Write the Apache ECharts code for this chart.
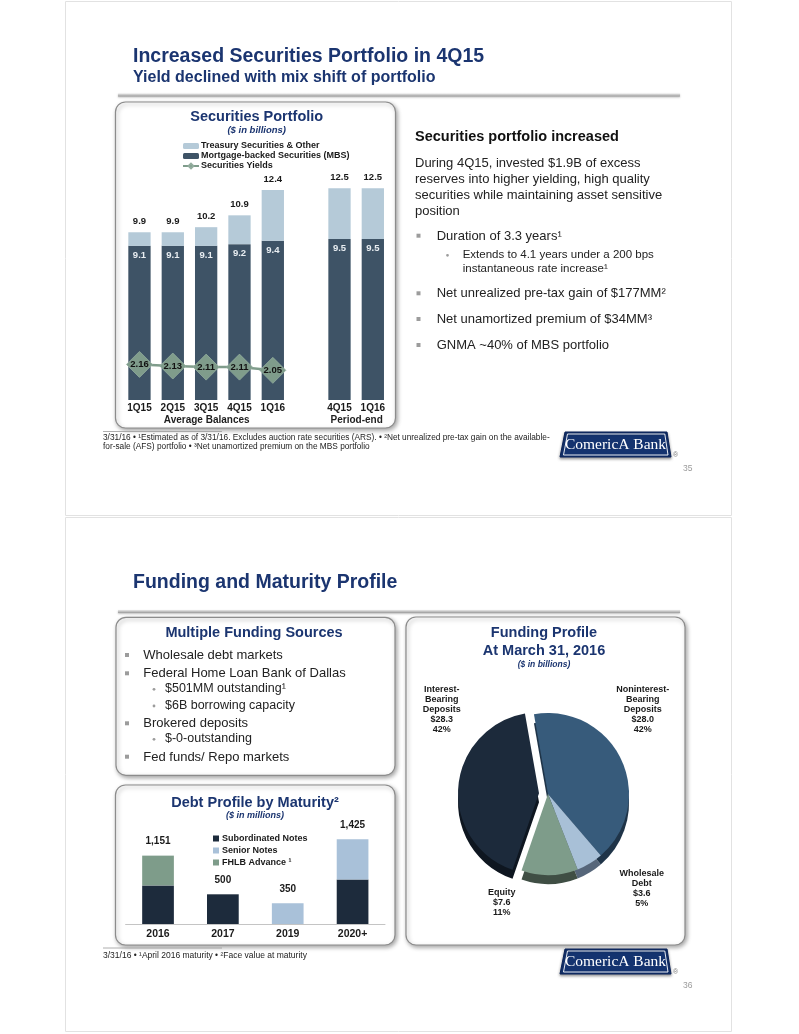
<!DOCTYPE html>
<html>
<head>
<meta charset="utf-8">
<script src="https://cdn.jsdelivr.net/npm/echarts@6.0.0/dist/echarts.min.js"></script>
<style>
html,body{margin:0;padding:0;background:#fff;}
#main{width:799px;height:1034px;}
</style>
</head>
<body>
<div id="main"></div>
<script>
// ---------- DATA ----------
const secCats = ['1Q15', '2Q15', '3Q15', '4Q15', '1Q16', '', '4Q15', '1Q16'];
const secTotals = [9.9, 9.9, 10.2, 10.9, 12.4, null, 12.5, 12.5];
const secMBS = [9.1, 9.1, 9.1, 9.2, 9.4, null, 9.5, 9.5];
const secYields = [2.16, 2.13, 2.11, 2.11, 2.05, null, null, null];
const secGroups = ['Average Balances', 'Period-end'];

const debtCats = ['2016', '2017', '2019', '2020+'];
const debtSub = [650, 500, null, 750];
const debtSenior = [null, null, 350, 675];
const debtFHLB = [501, null, null, null];
const debtTotals = [1151, 500, 350, 1425];

const fundNames = ['Noninterest-Bearing Deposits', 'Wholesale Debt', 'Equity', 'Interest-Bearing Deposits'];
const fundValues = [28.0, 3.6, 7.6, 28.3];
const fundExploded = 3; // index of the pulled-out slice

// ---------- STYLE ----------
const FF = '"Liberation Sans", Arial, Helvetica, sans-serif';
const NAVY = '#1B3570';
const C_MBS = '#3E5366', C_TRE = '#B5CAD8', C_YLD = '#7F9C8B';
const C_SUB = '#1D2B3C', C_SEN = '#A9C1D9', C_FHLB = '#7E9C8A';
const pieColors = ['#375B7B', '#A8C0D7', '#7E9C8A', '#1C2A3B'];
const pieDepth = ['#1F3448', '#56667A', '#3F4E44', '#0E1620'];
const CLEAR = 'rgba(0,0,0,0)';

const secTreasury = secTotals.map((t, i) => t == null ? null : +(t - secMBS[i]).toFixed(2));

function T(x, baseline, text, fs, o) {
  o = o || {};
  return {
    type: 'text', z: 100, silent: true,
    style: {
      text: text, x: x, y: baseline - 0.35 * fs,
      align: o.align || 'left', verticalAlign: 'middle',
      fontSize: fs, fontWeight: o.bold ? 'bold' : 'normal',
      fontStyle: o.italic ? 'italic' : 'normal',
      fontFamily: FF, fill: o.color || '#1e1e1e'
    }
  };
}
function box(x, y, w, h) {
  return {
    type: 'rect', z: 0, silent: true,
    shape: { x: x, y: y, width: w, height: h, r: 10 },
    style: { fill: '#fff', stroke: '#8c8c8c', lineWidth: 1.2,
      shadowBlur: 4, shadowColor: 'rgba(0,0,0,0.35)', shadowOffsetX: 1.5, shadowOffsetY: 2 }
  };
}
function rule(y) {
  return {
    type: 'rect', z: 1, silent: true,
    shape: { x: 118, y: y, width: 562, height: 3 },
    style: {
      fill: new echarts.graphic.LinearGradient(0, 0, 0, 1, [
        { offset: 0, color: '#e8e8e8' }, { offset: 1, color: '#9a9a9a' }]),
      shadowBlur: 2, shadowColor: 'rgba(0,0,0,0.25)', shadowOffsetY: 1
    }
  };
}
function shortLine(y) {
  return { type: 'line', z: 1, silent: true, shape: { x1: 103, y1: y, x2: 222, y2: y },
    style: { stroke: '#9a9a9a', lineWidth: 0.8 } };
}
function sq(x, baseline) {
  return { type: 'rect', z: 100, silent: true, shape: { x: x, y: baseline - 7, width: 4, height: 4 },
    style: { fill: '#9c9c9c' } };
}
function dot(x, baseline) {
  return { type: 'circle', z: 100, silent: true, shape: { cx: x, cy: baseline - 4, r: 1.4 },
    style: { fill: '#9c9c9c' } };
}
function logo(y, num) {
  return [
    { type: 'polygon', z: 50, silent: true,
      shape: { points: [[565, y], [667, y], [671, y + 25], [560, y + 25]] },
      style: { fill: '#14336F', stroke: '#0b2358', lineWidth: 1, shadowBlur: 3, shadowColor: 'rgba(0,0,0,0.4)', shadowOffsetY: 1.5 } },
    { type: 'polygon', z: 51, silent: true,
      shape: { points: [[567.5, y + 2], [664.8, y + 2], [668, y + 23], [563.5, y + 23]] },
      style: { fill: 'none', stroke: '#ffffff', lineWidth: 0.9 } },
    { type: 'text', z: 52, silent: true,
      style: { text: 'ComericA Bank', x: 615.5, y: y + 12.5, align: 'center', verticalAlign: 'middle',
        fontSize: 15.5, fontFamily: '"Liberation Serif", "Times New Roman", serif', fill: '#fff' } },
    T(673, y + 26, '®', 7, { color: '#777' }),
    T(683, y + 39.5, num, 8.5, { color: '#9a9a9a' })
  ];
}

const elements = [
  { type: 'rect', z: -5, silent: true, shape: { x: 65.5, y: 1.5, width: 666, height: 514 },
    style: { fill: '#fff', stroke: '#e2e2e2', lineWidth: 1 } },
  { type: 'rect', z: -5, silent: true, shape: { x: 65.5, y: 517.5, width: 666, height: 514 },
    style: { fill: '#fff', stroke: '#e2e2e2', lineWidth: 1 } },
  // slide 1
  T(133, 63.3, 'Increased Securities Portfolio in 4Q15', 19.5, { bold: true, color: NAVY }),
  T(133, 83.3, 'Yield declined with mix shift of portfolio', 16, { bold: true, color: NAVY }),
  rule(93.5),
  box(115.5, 102, 280, 326),
  T(256.7, 121.7, 'Securities Portfolio', 14.5, { bold: true, color: NAVY, align: 'center' }),
  T(256.7, 133.3, '($ in billions)', 9.5, { bold: true, italic: true, color: NAVY, align: 'center' }),
  T(206.7, 424, secGroups[0], 10, { bold: true, align: 'center' }),
  T(356.7, 424, secGroups[1], 10, { bold: true, align: 'center' }),

  T(415, 141.7, 'Securities portfolio increased', 14.5, { bold: true, color: '#111' }),
  T(415, 168.3, 'During 4Q15, invested $1.9B of excess', 13, { color: '#222' }),
  T(415, 184.3, 'reserves into higher yielding, high quality', 13, { color: '#222' }),
  T(415, 200, 'securities while maintaining asset sensitive', 13, { color: '#222' }),
  T(415, 215.7, 'position', 13, { color: '#222' }),
  sq(416.5, 240.7), T(436.7, 240.7, 'Duration of 3.3 years¹', 13, { color: '#222' }),
  dot(447.5, 259.3), T(462.7, 259.3, 'Extends to 4.1 years under a 200 bps', 11.5, { color: '#222' }),
  T(462.7, 273.3, 'instantaneous rate increase¹', 11.5, { color: '#222' }),
  sq(416.5, 298.3), T(436.7, 298.3, 'Net unrealized pre-tax gain of $177MM²', 13, { color: '#222' }),
  sq(416.5, 324), T(436.7, 324, 'Net unamortized premium of $34MM³', 13, { color: '#222' }),
  sq(416.5, 350), T(436.7, 350, 'GNMA ~40% of MBS portfolio', 13, { color: '#222' }),

  shortLine(431.5),
  T(103, 441, '3/31/16 • ¹Estimated as of 3/31/16. Excludes auction rate securities (ARS). • ²Net unrealized pre-tax gain on the available-', 8.3, { color: '#222' }),
  T(103, 449.5, 'for-sale (AFS) portfolio • ³Net unamortized premium on the MBS portfolio', 8.3, { color: '#222' }),
  ...logo(432, '35'),

  // slide 2
  T(133, 589.3, 'Funding and Maturity Profile', 19.5, { bold: true, color: NAVY }),
  rule(610),
  box(116, 617.3, 279, 158),
  box(115.5, 785, 279.5, 160),
  box(406, 617, 279, 328),
  T(254, 638.3, 'Multiple Funding Sources', 14.5, { bold: true, color: NAVY, align: 'center' }),
  sq(125, 660), T(143.3, 660, 'Wholesale debt markets', 13, { color: '#222' }),
  sq(125, 678.3), T(143.3, 678.3, 'Federal Home Loan Bank of Dallas', 13, { color: '#222' }),
  dot(154, 693.3), T(165, 693.3, '$501MM outstanding¹', 12.5, { color: '#222' }),
  dot(154, 710), T(165, 710, '$6B borrowing capacity', 12.5, { color: '#222' }),
  sq(125, 728.3), T(143.3, 728.3, 'Brokered deposits', 13, { color: '#222' }),
  dot(154, 743.3), T(165, 743.3, '$-0-outstanding', 12.5, { color: '#222' }),
  sq(125, 761.7), T(143.3, 761.7, 'Fed funds/ Repo markets', 13, { color: '#222' }),

  T(255, 808.3, 'Debt Profile by Maturity²', 14.5, { bold: true, color: NAVY, align: 'center' }),
  T(255, 819, '($ in millions)', 9, { bold: true, italic: true, color: NAVY, align: 'center' }),

  T(544, 638.3, 'Funding Profile', 14.5, { bold: true, color: NAVY, align: 'center' }),
  T(544, 656, 'At March 31, 2016', 14.5, { bold: true, color: NAVY, align: 'center' }),
  T(544, 667.3, '($ in billions)', 8.5, { bold: true, italic: true, color: NAVY, align: 'center' }),

  shortLine(948),
  T(103, 958.3, '3/31/16 • ¹April 2016 maturity • ²Face value at maturity', 8.5, { color: '#222' }),
  ...logo(949, '36')
];

// pie geometry
const PC = [548, 794], PR = 81, PDEPTH = 9, PEXP = [-9, -0.7];
const pieLabelPos = [[642.7, 710], [641.7, 889], [501.7, 902.5], [441.7, 710]];
const pieLabelFmt = p => p.name.replace('-', '-\n').replace(/ /g, '\n') + '\n$' + p.value.toFixed(1) + '\n' + p.percent + '%';

function pieSeries(name, center, colors, onlyExploded, withLabels, z) {
  return {
    name: name, type: 'pie', center: center, radius: PR, startAngle: 100, clockwise: true,
    z: z, silent: true, percentPrecision: 0, emphasis: { disabled: true },
    itemStyle: { borderWidth: 0 },
    labelLine: { show: false },
    label: withLabels ? { show: true, position: 'outside', formatter: pieLabelFmt, color: '#1a1a1a',
      fontSize: 9, fontWeight: 'bold', lineHeight: 10, align: 'center' } : { show: false },
    labelLayout: withLabels ? (p => ({ x: pieLabelPos[p.dataIndex][0], y: pieLabelPos[p.dataIndex][1],
      align: 'center', verticalAlign: 'middle' })) : undefined,
    data: fundValues.map((v, i) => ({
      value: v, name: fundNames[i],
      itemStyle: { color: (onlyExploded ? i === fundExploded : i !== fundExploded) ? colors[i] : CLEAR }
    }))
  };
}

const chart = echarts.init(document.getElementById('main'), null, { renderer: 'canvas' });
chart.setOption({
  animation: false,
  textStyle: { fontFamily: FF },
  graphic: { elements: elements },
  legend: [
    {
      data: ['Treasury Securities & Other', 'Mortgage-backed Securities (MBS)', 'Securities Yields'],
      orient: 'vertical', left: 177, top: 136, itemGap: 0,
      itemWidth: 16, itemHeight: 6, selectedMode: false, z: 20,
      textStyle: { fontSize: 9, fontWeight: 'bold', color: '#1a1a1a', lineHeight: 10, padding: [0, 0, 0, -3] }
    },
    {
      data: ['Subordinated Notes', 'Senior Notes', 'FHLB Advance'],
      orient: 'vertical', left: 208, top: 829, itemGap: 3,
      itemWidth: 6, itemHeight: 6, icon: 'rect', selectedMode: false, z: 20,
      formatter: n => n === 'FHLB Advance' ? 'FHLB Advance ¹' : n,
      textStyle: { fontSize: 9, fontWeight: 'bold', color: '#1a1a1a', lineHeight: 9, padding: [0, 0, 0, -2] }
    }
  ],
  grid: [
    { left: 122.8, top: 162.8, width: 266.7, height: 237.2 },
    { left: 125.6, top: 805.2, width: 259.4, height: 118.8 }
  ],
  xAxis: [
    { type: 'category', gridIndex: 0, data: secCats, axisLine: { show: false }, axisTick: { show: false },
      axisLabel: { margin: 3.5, fontSize: 10, fontWeight: 'bold', color: '#1a1a1a', interval: 0 } },
    { type: 'category', gridIndex: 1, data: debtCats,
      axisLine: { show: true, lineStyle: { color: '#c4c4c4', width: 1 } }, axisTick: { show: false },
      axisLabel: { margin: 4.5, fontSize: 10.5, fontWeight: 'bold', color: '#1a1a1a', interval: 0 } }
  ],
  yAxis: [
    { type: 'value', gridIndex: 0, min: 0, max: 14, show: false },
    { type: 'value', gridIndex: 0, min: 1.5, max: 5.9, show: false },
    { type: 'value', gridIndex: 1, min: 0, max: 2000, show: false }
  ],
  series: [
    {
      name: 'Mortgage-backed Securities (MBS)', type: 'bar', xAxisIndex: 0, yAxisIndex: 0,
      stack: 'sec', data: secMBS, barWidth: 22.3, itemStyle: { color: C_MBS },
      label: { show: true, position: 'insideTop', distance: 4.5, color: '#e9eef2', fontSize: 9.5, fontWeight: 'bold',
        formatter: p => p.value.toFixed(1) }
    },
    {
      name: 'Treasury Securities & Other', type: 'bar', xAxisIndex: 0, yAxisIndex: 0,
      stack: 'sec', data: secTreasury, barWidth: 22.3, itemStyle: { color: C_TRE },
      label: { show: true, position: 'top', distance: 6, color: '#1a1a1a', fontSize: 9.5, fontWeight: 'bold',
        formatter: p => secTotals[p.dataIndex].toFixed(1) }
    },
    {
      name: 'Securities Yields', type: 'line', xAxisIndex: 0, yAxisIndex: 1, z: 5,
      data: secYields, symbol: 'diamond', symbolSize: 26,
      itemStyle: { color: C_YLD, borderColor: '#93ad9e', borderWidth: 0.8 },
      lineStyle: { color: C_YLD, width: 2.5 },
      label: { show: true, position: 'inside', color: '#111', fontSize: 9.5, fontWeight: 'bold',
        formatter: p => p.value.toFixed(2) }
    },
    {
      name: 'Subordinated Notes', type: 'bar', xAxisIndex: 1, yAxisIndex: 2, stack: 'debt',
      data: debtSub, barWidth: 31.7, itemStyle: { color: C_SUB }
    },
    {
      name: 'Senior Notes', type: 'bar', xAxisIndex: 1, yAxisIndex: 2, stack: 'debt',
      data: debtSenior, barWidth: 31.7, itemStyle: { color: C_SEN }
    },
    {
      name: 'FHLB Advance', type: 'bar', xAxisIndex: 1, yAxisIndex: 2, stack: 'debt',
      data: debtFHLB, barWidth: 31.7, itemStyle: { color: C_FHLB }
    },
    {
      name: 'Total', type: 'bar', xAxisIndex: 1, yAxisIndex: 2, barGap: '-100%',
      data: debtTotals, barWidth: 31.7, silent: true, z: 1,
      itemStyle: { color: CLEAR },
      label: { show: true, position: 'top', distance: 9, color: '#1a1a1a', fontSize: 10, fontWeight: 'bold',
        formatter: p => p.value.toLocaleString('en-US') }
    },
    pieSeries('Funding Depth', [PC[0], PC[1] + PDEPTH], pieDepth, false, false, 1),
    pieSeries('Funding Depth Out', [PC[0] + PEXP[0], PC[1] + PDEPTH + PEXP[1]], pieDepth, true, false, 1),
    pieSeries('Funding Profile Out', [PC[0] + PEXP[0], PC[1] + PEXP[1]], pieColors, true, false, 2),
    pieSeries('Funding Profile', PC, pieColors, false, true, 3)
  ]
});
</script>
</body>
</html>
